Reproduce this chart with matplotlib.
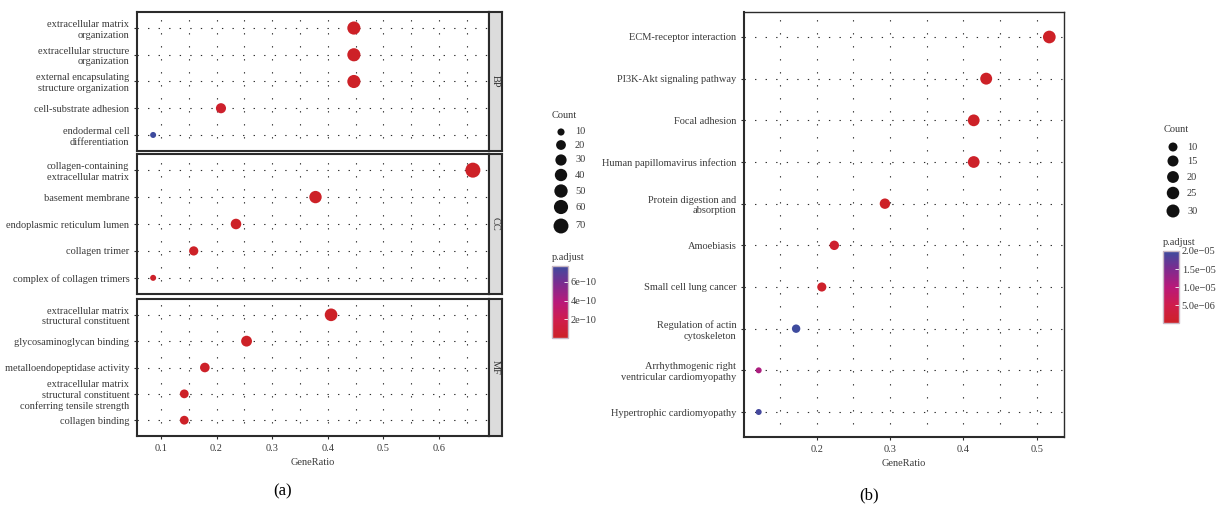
"""GO / KEGG enrichment dot plots, two panels side by side."""

import matplotlib
matplotlib.use("Agg")
import matplotlib.pyplot as plt
import numpy as np
from matplotlib.colors import LinearSegmentedColormap, Normalize
from matplotlib.colorbar import ColorbarBase
from matplotlib.ticker import MultipleLocator

plt.rcParams["font.family"] = ["Liberation Serif", "DejaVu Serif"]
plt.rcParams["font.size"] = 7.5

# ---- data: panel (a), GO terms ----
bp_terms = ["extracellular matrix\norganization",
            "extracellular structure\norganization",
            "external encapsulating\nstructure organization",
            "cell-substrate adhesion",
            "endodermal cell\ndifferentiation"]
bp_ratio = [0.447, 0.447, 0.447, 0.208, 0.086]
bp_count = [48, 48, 48, 22, 9]
bp_padj = [1.2e-14, 1.2e-14, 1.2e-14, 3.0e-11, 7.7e-10]

cc_terms = ["collagen-containing\nextracellular matrix",
            "basement membrane",
            "endoplasmic reticulum lumen",
            "collagen trimer",
            "complex of collagen trimers"]
cc_ratio = [0.661, 0.378, 0.235, 0.159, 0.086]
cc_count = [71, 40, 25, 17, 9]
cc_padj = [1e-30, 1e-20, 1e-12, 1e-13, 1e-11]

mf_terms = ["extracellular matrix\nstructural constituent",
            "glycosaminoglycan binding",
            "metalloendopeptidase activity",
            "extracellular matrix\nstructural constituent\nconferring tensile strength",
            "collagen binding"]
mf_ratio = [0.406, 0.254, 0.179, 0.142, 0.142]
mf_count = [43, 27, 19, 15, 15]
mf_padj = [1e-25, 1e-12, 1e-11, 2e-13, 5e-12]

go_strips = ["BP", "CC", "MF"]
go_count_breaks = [10, 20, 30, 40, 50, 60, 70]
go_padj_ticks = [2e-10, 4e-10, 6e-10]
go_padj_labels = ["2e\u221210", "4e\u221210", "6e\u221210"]
go_xticks = [0.1, 0.2, 0.3, 0.4, 0.5, 0.6]

# ---- data: panel (b), KEGG pathways ----
kegg_terms = ["ECM-receptor interaction",
              "PI3K-Akt signaling pathway",
              "Focal adhesion",
              "Human papillomavirus infection",
              "Protein digestion and\nabsorption",
              "Amoebiasis",
              "Small cell lung cancer",
              "Regulation of actin\ncytoskeleton",
              "Arrhythmogenic right\nventricular cardiomyopathy",
              "Hypertrophic cardiomyopathy"]
kegg_ratio = [0.517, 0.431, 0.414, 0.414, 0.293, 0.224, 0.207, 0.172, 0.121, 0.121]
kegg_count = [30, 25, 24, 24, 17, 13, 12, 10, 7, 7]
kegg_padj = [1.5e-11, 2e-8, 3e-8, 4e-7, 2e-8, 1e-6, 5e-7, 2.0e-5, 1.1e-5, 1.95e-5]

kegg_count_breaks = [10, 15, 20, 25, 30]
kegg_padj_ticks = [5e-6, 1e-5, 1.5e-5, 2e-5]
kegg_padj_labels = ["5.0e\u221206", "1.0e\u221205", "1.5e\u221205", "2.0e\u221205"]
kegg_xticks = [0.2, 0.3, 0.4, 0.5]

W, H = 1221, 509
fig = plt.figure(figsize=(W / 100, H / 100), dpi=100)

cmap = LinearSegmentedColormap.from_list(
    "padj", [(0.0, "#cd2127"), (0.25, "#cf1d4d"), (0.5, "#b8197a"),
             (0.75, "#7d2b8f"), (1.0, "#3e4b9e")])
DARK = "#2b2b2b"
LABEL = "#3a3a3a"


def px_axes(left, top, right, bottom):
    return fig.add_axes([left / W, 1 - bottom / H,
                         (right - left) / W, (bottom - top) / H])


def size_fn(dmin, dmax, cmin, cmax):
    """ggplot-like area scale: diameter (px) grows with sqrt of count."""
    def f(c):
        c = np.asarray(c, dtype=float)
        d = dmin + (dmax - dmin) * np.sqrt(np.clip((c - cmin) / (cmax - cmin), 0, None))
        return (d * 72 / 100) ** 2
    return f


def dot_panel(ax, terms, ratio, count, padj, xlim, sizes, norm, xticks,
              show_x=True, hgap=8.3):
    n = len(terms)
    y = np.arange(n)[::-1] + 1
    ax.set_xlim(*xlim)
    ax.set_ylim(0.4, n + 0.6)
    ax.set_yticks(y)
    ax.set_yticklabels(terms, linespacing=1.22)
    ax.set_xticks(xticks)
    ax.xaxis.set_minor_locator(MultipleLocator(0.05))
    ax.grid(True, which="both", axis="x", color=DARK,
            linestyle=(0, (1.2, 10.5)), linewidth=0.8)
    ax.grid(True, which="major", axis="y", color=DARK,
            linestyle=(0, (1.2, hgap)), linewidth=0.8)
    ax.set_axisbelow(True)
    ax.scatter(ratio, y, s=sizes(count), c=padj, cmap=cmap, norm=norm,
               edgecolors="none", zorder=3)
    ax.tick_params(which="minor", length=0)
    ax.tick_params(which="major", length=2.5, width=0.8, color=DARK,
                   labelsize=7.5, pad=3, labelcolor=LABEL)
    if not show_x:
        ax.tick_params(axis="x", labelbottom=False, length=0)
    for sp in ax.spines.values():
        sp.set_color(DARK)
        sp.set_linewidth(1.5)


def count_legend(left, top, breaks, sizes, ys):
    lax = px_axes(left, top, left + 60, top + 130)
    lax.set_xlim(0, 60)
    lax.set_ylim(130, 0)
    lax.axis("off")
    lax.text(0, 0, "Count", va="top", ha="left", fontsize=7.5, color=LABEL)
    for b, yy in zip(breaks, ys):
        lax.scatter([9], [yy], s=sizes([b]), color="#111111", edgecolors="none")
        lax.text(23, yy, str(b), va="center", ha="left", fontsize=7.5,
                 color=LABEL)


def padj_colorbar(left, top, norm, ticks, labels):
    fig.text(left / W, 1 - (top - 4) / H, "p.adjust", va="bottom",
             ha="left", fontsize=7.5, color=LABEL)
    cax = px_axes(left, top, left + 16, top + 72)
    cb = ColorbarBase(cax, cmap=cmap, norm=norm, orientation="vertical")
    cb.set_ticks(ticks)
    cb.set_ticklabels(labels)
    cb.outline.set_edgecolor("#c9b7c4")
    cb.outline.set_linewidth(1.0)
    cax.tick_params(direction="in", color="white", length=3, width=0.6,
                    labelsize=7.5, pad=2, labelcolor=LABEL)


# ---- panel (a) ----
go_all = bp_padj + cc_padj + mf_padj
go_norm = Normalize(vmin=min(go_all), vmax=max(go_all))
go_counts = bp_count + cc_count + mf_count
go_sizes = size_fn(6.0, 15.0, min(go_counts), max(go_counts))
go_xlim = (0.057, 0.69)

panel_rows = [(12, 151), (154, 294), (299, 436)]
go_data = [(bp_terms, bp_ratio, bp_count, bp_padj),
           (cc_terms, cc_ratio, cc_count, cc_padj),
           (mf_terms, mf_ratio, mf_count, mf_padj)]
for i, ((top, bot), (terms, ratio, cnt, padj), strip) in enumerate(
        zip(panel_rows, go_data, go_strips)):
    ax = px_axes(137, top, 489, bot)
    dot_panel(ax, terms, ratio, cnt, padj, go_xlim, go_sizes, go_norm,
              go_xticks, show_x=(i == 2), hgap=8.3)
    if i == 2:
        ax.set_xlabel("GeneRatio", fontsize=7.5, labelpad=4, color=LABEL)
    sax = px_axes(489, top, 502, bot)
    sax.set_xticks([])
    sax.set_yticks([])
    sax.set_facecolor("#dcdcdc")
    for sp in sax.spines.values():
        sp.set_color(DARK)
        sp.set_linewidth(1.5)
    sax.text(0.5, 0.5, strip, rotation=-90, ha="center", va="center",
             fontsize=7.5, color="#333333", transform=sax.transAxes)

count_legend(552, 111, go_count_breaks, go_sizes,
             [21, 34, 49, 64, 80, 96, 115])
padj_colorbar(552, 266, go_norm, go_padj_ticks, go_padj_labels)
fig.text(283 / W, 1 - 491 / H, "(a)", ha="center", va="center", fontsize=12)

# ---- panel (b) ----
kegg_norm = Normalize(vmin=min(kegg_padj), vmax=max(kegg_padj))
kegg_sizes = size_fn(6.0, 12.7, min(kegg_count), max(kegg_count))
axb = px_axes(744, 12, 1064, 437)
dot_panel(axb, kegg_terms, kegg_ratio, kegg_count, kegg_padj,
          (0.101, 0.537), kegg_sizes, kegg_norm, kegg_xticks, hgap=8.3)
axb.spines["top"].set_linewidth(1.0)
axb.spines["right"].set_linewidth(1.0)
axb.set_xlabel("GeneRatio", fontsize=7.5, labelpad=4, color=LABEL)

kegg_legend_sizes = size_fn(9.0, 13.0, 10, 30)
count_legend(1164, 125, kegg_count_breaks, kegg_legend_sizes,
             [22, 36, 52, 68, 86])
padj_colorbar(1163, 251, kegg_norm, kegg_padj_ticks, kegg_padj_labels)
fig.text(869 / W, 1 - 495 / H, "(b)", ha="center", va="center", fontsize=12)

fig.savefig("out.png", dpi=100, facecolor="white")
